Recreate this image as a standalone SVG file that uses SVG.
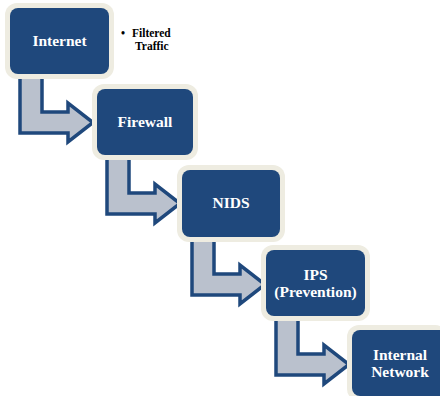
<svg xmlns="http://www.w3.org/2000/svg" width="440" height="396" viewBox="0 0 440 396">
<defs>
<style>
.halo{fill:#eeece1;}
.box{fill:#1f487c;}
.lbl{font-weight:700;font-size:15.5px;fill:#ffffff;text-anchor:middle;}
.note{font-weight:700;font-size:11.5px;fill:#000000;}
.arr{fill:#bac1cd;stroke:#1f487c;stroke-width:3.5;stroke-linejoin:miter;}
</style>
<path id="bent" d="M0,0 L22,0 L22,36 L48,36 L48,27 L73,46.5 L48,66 L48,57 L0,57 Z"/>
</defs>
<rect width="440" height="396" fill="#ffffff"/>
<g id="connectors">
<use href="#bent" class="arr" transform="translate(20,76)"/>
<use href="#bent" class="arr" transform="translate(107,157)"/>
<use href="#bent" class="arr" transform="translate(192,238)"/>
<use href="#bent" class="arr" transform="translate(276,318)"/>
</g>
<g id="internet">
<rect class="halo" x="5" y="3" width="109" height="76" rx="12"/>
<rect class="box" x="10" y="8" width="99" height="66" rx="8"/>
<text class="lbl" font-family="Liberation Serif" x="59.5" y="46">Internet</text>
</g>
<g id="note">
<text class="note" font-family="Liberation Serif" x="121" y="37">•<tspan x="132">Filtered</tspan></text>
<text class="note" font-family="Liberation Serif" x="135" y="50">Traffic</text>
</g>
<g id="firewall">
<rect class="halo" x="92" y="84" width="106" height="76" rx="12"/>
<rect class="box" x="97" y="89" width="96" height="66" rx="8"/>
<text class="lbl" font-family="Liberation Serif" x="145" y="127">Firewall</text>
</g>
<g id="nids">
<rect class="halo" x="177" y="165" width="108" height="77" rx="12"/>
<rect class="box" x="182" y="170" width="98" height="67" rx="8"/>
<text class="lbl" font-family="Liberation Serif" x="231" y="208">NIDS</text>
</g>
<g id="ips">
<rect class="halo" x="261" y="245" width="109" height="76" rx="12"/>
<rect class="box" x="266" y="250" width="99" height="66" rx="8"/>
<text class="lbl" font-family="Liberation Serif" x="315.5" y="280">IPS</text>
<text class="lbl" font-family="Liberation Serif" x="315.5" y="297">(Prevention)</text>
</g>
<g id="internal">
<rect class="halo" x="347" y="325" width="100" height="76" rx="12"/>
<rect class="box" x="352" y="330" width="95" height="66" rx="8"/>
<text class="lbl" font-family="Liberation Serif" x="400" y="360">Internal</text>
<text class="lbl" font-family="Liberation Serif" x="400" y="377">Network</text>
</g>
</svg>
